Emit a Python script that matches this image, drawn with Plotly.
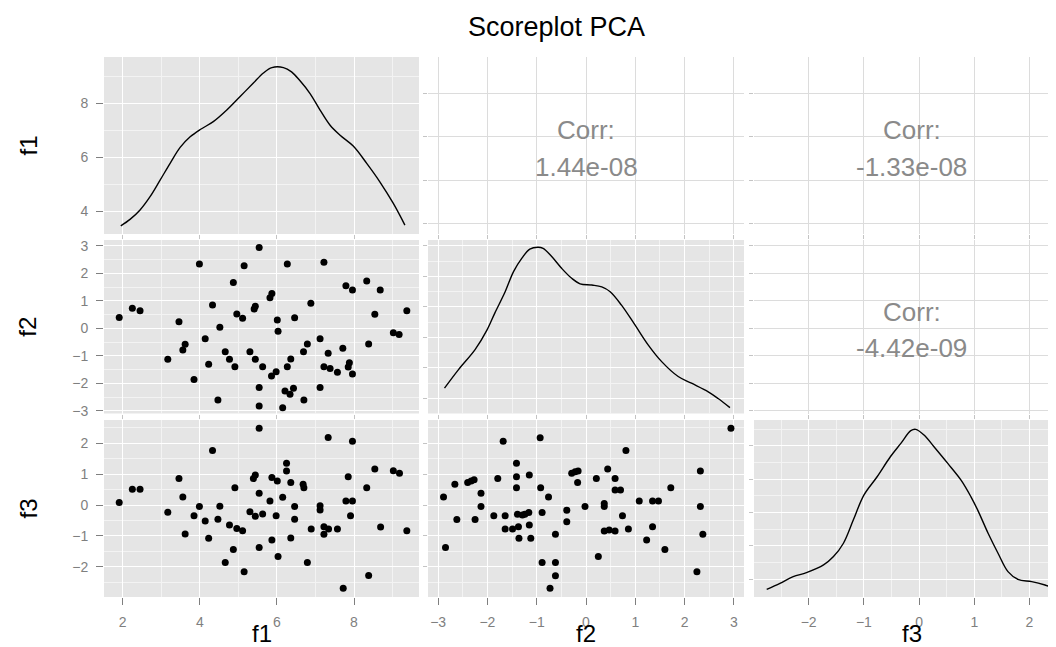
import plotly.graph_objects as go

# ---------------- data ----------------
var_names = ["f1", "f2", "f3"]
corr_labels = ["1.44e-08", "-1.33e-08", "-4.42e-09"]

# scatter panel row f2 / column f1
sc21_f1 = [1.91, 2.25, 2.45, 3.46, 3.17, 3.56, 3.62, 3.85, 3.99, 4.14, 4.23, 4.33, 4.47, 4.52,
           4.66, 4.77, 4.87, 4.91, 4.96, 5.11, 5.15, 5.30, 5.41, 5.44, 5.44, 5.54, 5.54, 5.54,
           5.63, 5.82, 5.87, 5.86, 5.98, 6.01, 6.03, 6.15, 6.21, 6.27, 6.27, 6.34, 6.36, 6.43,
           6.46, 6.69, 6.70, 6.79, 6.88, 7.12, 7.12, 7.22, 7.22, 7.33, 7.38, 7.57, 7.71, 7.79,
           7.88, 7.85, 7.96, 7.96, 8.33, 8.38, 8.54, 8.68, 9.02, 9.17, 9.37]
sc21_f2 = [0.39, 0.73, 0.64, 0.24, -1.13, -0.79, -0.58, -1.86, 2.34, -0.38, -1.31, 0.85, -2.61, 0.04,
           -0.85, -1.13, 1.66, -1.40, 0.52, 0.36, 2.27, -0.85, 0.70, 0.80, -1.13, 2.94, -2.15, -2.83,
           -1.40, 1.11, 1.26, -1.74, -1.58, 0.30, -0.11, -2.89, -2.28, 2.34, -1.40, -2.40, -1.12, -2.18,
           0.38, -0.85, -2.61, -0.57, 0.91, -0.38, -2.15, 2.40, -1.40, -0.91, -1.46, -1.60, -0.73, 1.55,
           -1.25, -1.41, 1.39, -1.66, 1.72, -0.57, 0.51, 1.39, -0.16, -0.23, 0.64]

# scatter panel row f3 / column f1
sc31_f1 = [1.91, 2.25, 2.45, 3.17, 3.46, 3.56, 3.62, 3.85, 3.99, 4.14, 4.23, 4.33, 4.47, 4.52,
           4.66, 4.77, 4.87, 4.91, 4.96, 5.11, 5.15, 5.30, 5.39, 5.44, 5.44, 5.54, 5.54, 5.54,
           5.63, 5.82, 5.87, 5.87, 5.98, 6.01, 6.03, 6.15, 6.25, 6.25, 6.36, 6.36, 6.46, 6.46,
           6.68, 6.70, 6.79, 6.89, 7.12, 7.12, 7.22, 7.22, 7.33, 7.34, 7.57, 7.72, 7.85, 7.79,
           7.91, 7.96, 7.96, 8.33, 8.38, 8.54, 8.69, 9.02, 9.18, 9.37]
sc31_f3 = [0.08, 0.51, 0.51, -0.23, 0.86, 0.26, -0.94, -0.35, -0.05, -0.52, -1.08, 1.77, -0.46, -0.04,
           -1.86, -0.65, -1.44, 0.56, -0.76, -0.83, -2.16, -0.22, 0.86, 0.97, -0.36, 2.49, 0.38, -1.38,
           -0.29, 0.13, 0.89, -1.13, -0.35, 0.78, -1.67, 0.25, 1.35, 1.10, 0.73, -1.07, -0.05, -0.46,
           0.67, 0.56, -1.86, -0.78, -0.02, -0.16, -0.70, -0.95, 2.19, -0.78, -0.78, -2.70, 0.92, 0.13,
           -0.35, 2.07, 0.13, 0.56, -2.28, 1.17, -0.71, 1.11, 1.03, -0.83]

# scatter panel row f3 / column f2
sc32_f2 = [-2.89, -2.85, -2.66, -2.62, -2.40, -2.33, -2.27, -2.25, -2.13, -2.13, -1.87, -1.79, -1.68, -1.64,
           -1.64, -1.49, -1.41, -1.41, -1.41, -1.39, -1.37, -1.36, -1.29, -1.24, -1.16, -1.15, -1.15, -1.12,
           -0.93, -0.92, -0.89, -0.89, -0.76, -0.73, -0.62, -0.62, -0.62, -0.39, -0.39, -0.29, -0.22, -0.16,
           -0.17, -0.02, 0.21, 0.25, 0.37, 0.37, 0.37, 0.44, 0.47, 0.59, 0.59, 0.59, 0.70, 0.74,
           0.81, 0.86, 1.08, 1.23, 1.35, 1.35, 1.47, 1.60, 1.72, 2.25, 2.32, 2.32, 2.37, 2.94]
sc32_f3 = [0.26, -1.38, 0.67, -0.47, 0.73, 0.78, 0.82, -0.47, 0.38, -0.05, -0.35, 0.86, 2.07, -0.35,
           -0.78, -0.78, 1.35, 0.92, 0.56, -0.30, -0.70, -1.08, -0.32, -0.30, -0.24, 0.97, -0.65, -1.08,
           2.18, 0.56, -0.24, -1.86, 0.26, -2.70, -0.95, -1.86, -2.29, -0.17, -0.54, 1.03, 1.08, 1.10,
           0.73, -0.05, 0.86, -1.67, 0.05, -0.05, -0.84, 1.17, -0.81, 0.86, 0.49, -0.84, 0.49, -0.35,
           1.77, -0.78, 0.13, -1.13, 0.13, -0.70, 0.13, -1.44, 0.56, -2.16, 1.10, -0.05, -0.95, 2.49]

# diagonal density curves (in each panel's own y units)
dens_f1_x = [1.95, 2.19, 2.45, 2.71, 2.97, 3.23, 3.49, 3.75, 4.01, 4.35, 4.70, 5.04, 5.39, 5.65,
             5.87, 6.17, 6.38, 6.60, 6.86, 7.12, 7.38, 7.64, 7.98, 8.33, 8.67, 9.02, 9.32]
dens_f1_y = [3.47, 3.71, 4.06, 4.55, 5.16, 5.78, 6.37, 6.76, 7.03, 7.32, 7.75, 8.24, 8.75, 9.12,
             9.32, 9.32, 9.16, 8.83, 8.36, 7.75, 7.19, 6.82, 6.42, 5.78, 5.10, 4.30, 3.50]

dens_f2_x = [-2.87, -2.59, -2.25, -2.01, -1.85, -1.64, -1.47, -1.30, -1.14, -0.97, -0.87, -0.70, -0.49, -0.29,
             -0.12, 0.12, 0.32, 0.49, 0.72, 0.99, 1.26, 1.54, 1.87, 2.14, 2.48, 2.68, 2.92]
dens_f2_y = [0.067, 0.097, 0.130, 0.162, 0.190, 0.225, 0.258, 0.280, 0.295, 0.298, 0.296, 0.283, 0.263, 0.247,
             0.238, 0.236, 0.233, 0.225, 0.203, 0.171, 0.138, 0.110, 0.086, 0.075, 0.061, 0.050, 0.035]

dens_f3_x = [-2.76, -2.52, -2.28, -2.04, -1.73, -1.55, -1.37, -1.19, -1.00, -0.76, -0.52, -0.33, -0.15, -0.06,
             0.09, 0.27, 0.52, 0.76, 0.94, 1.06, 1.25, 1.43, 1.61, 1.79, 2.04, 2.28, 2.46, 2.55]
dens_f3_y = [0.070, 0.088, 0.108, 0.120, 0.143, 0.168, 0.208, 0.278, 0.352, 0.407, 0.467, 0.507, 0.545, 0.549,
             0.532, 0.497, 0.447, 0.397, 0.347, 0.308, 0.238, 0.178, 0.123, 0.100, 0.093, 0.083, 0.073, 0.070]

# ---------------- layout geometry (page pixels; page body has an 8px margin) ----------------
W, H = 1056, 647
OFF = 8
plot_left, plot_right, plot_top, plot_bottom = 104, 1056, 57, 597
ML = plot_left - OFF
MT = plot_top - OFF
MR = W - (plot_right - OFF)
MB = H - (plot_bottom - OFF)
PW, PH = plot_right - plot_left, plot_bottom - plot_top


def px_x(p):
    return (p - plot_left) / PW


def px_y(p):
    return (plot_bottom - p) / PH


col_px = [(104, 419), (428, 744), (754, 1056)]
row_px = [(57, 234), (240, 413.5), (420, 597)]
col_dom = [[px_x(a), px_x(b)] for a, b in col_px]
row_dom = [[px_y(b), px_y(a)] for a, b in row_px]

col_range = [[1.515, 9.686], [-3.205, 3.205], [-2.99, 2.48]]
row_range = [[1.515, 9.686], [-3.10, 3.21], [-2.98, 2.755]]
var_dtick = [2, 1, 1]
var_minor = [1, 0.5, 0.5]
diag_y = {1: ([3.17, 9.71], 2, 1), 2: ([0.0254, 0.3098], 0.05, 0.025), 3: ([0.047, 0.577], 0.1, 0.05)}

TICKFONT = dict(family="Liberation Sans", size=14, color="#7F7F7F")
GREY_BG = "#E5E5E5"


def sfx(k):
    return "" if k == 1 else str(k)


def make_axis(dom, rng, dtick, minor, anchor, grey, labels):
    d = dict(domain=dom, range=rng, anchor=anchor, tick0=0, dtick=dtick, showgrid=True,
             zeroline=False, showline=False, ticks="outside", ticklen=7 if labels else 4,
             tickcolor="#7F7F7F" if labels else "#C4C4C4", tickwidth=1,
             showticklabels=labels, tickfont=TICKFONT, fixedrange=True, ticklabelstandoff=5)
    if grey:
        d.update(gridcolor="white", gridwidth=1.3,
                 minor=dict(tick0=0, dtick=minor, showgrid=True, gridcolor="#F3F3F3", gridwidth=0.6, ticks=""))
    else:
        d.update(gridcolor="#DCDCDC", gridwidth=1)
    return d


fig = go.Figure()
layout = {}
shapes = []
for r in range(3):
    for c in range(3):
        k = r * 3 + c + 1
        grey = c <= r
        xa = make_axis(col_dom[c], col_range[c], var_dtick[c], var_minor[c], "y" + sfx(k), grey, r == 2)
        if r == c:
            rng, dt, mn = diag_y[r + 1]
        else:
            rng, dt, mn = row_range[r], var_dtick[r], var_minor[r]
        ya = make_axis(row_dom[r], rng, dt, mn, "x" + sfx(k), grey, c == 0)
        layout["xaxis" + sfx(k)] = xa
        layout["yaxis" + sfx(k)] = ya
        if grey:
            shapes.append(dict(type="rect", xref="x" + sfx(k) + " domain", yref="y" + sfx(k) + " domain",
                               x0=0, x1=1, y0=0, y1=1, fillcolor=GREY_BG, line=dict(width=0), layer="below"))

# density traces
for k, (dx, dy) in zip([1, 5, 9], [(dens_f1_x, dens_f1_y), (dens_f2_x, dens_f2_y), (dens_f3_x, dens_f3_y)]):
    fig.add_trace(go.Scatter(x=dx, y=dy, mode="lines", line=dict(color="black", width=1.4, shape="spline"),
                             xaxis="x" + sfx(k), yaxis="y" + sfx(k), showlegend=False, hoverinfo="skip"))

# scatter traces
for k, (sx, sy) in zip([4, 7, 8], [(sc21_f1, sc21_f2), (sc31_f1, sc31_f3), (sc32_f2, sc32_f3)]):
    fig.add_trace(go.Scatter(x=sx, y=sy, mode="markers", marker=dict(color="black", size=7),
                             xaxis="x" + sfx(k), yaxis="y" + sfx(k), showlegend=False))

# empty traces so the text panels get their axes and grids
for k in [2, 3, 6]:
    fig.add_trace(go.Scatter(x=[], y=[], mode="markers", xaxis="x" + sfx(k), yaxis="y" + sfx(k),
                             showlegend=False, hoverinfo="skip"))

annotations = []
# correlation text
corr_font = dict(family="Liberation Sans", size=26, color="#8A8A8A")
for k, lab in zip([2, 3, 6], corr_labels):
    xc = 0.5 if k == 2 else 0.523
    for txt, yy in (("Corr:", 0.587), (lab, 0.378)):
        annotations.append(dict(text=txt, xref="x" + sfx(k) + " domain", yref="y" + sfx(k) + " domain",
                                x=xc, y=yy, showarrow=False, xanchor="center", yanchor="middle", font=corr_font))

# axis titles
title_font = dict(family="Liberation Sans", size=24, color="black")
bottom_centres = [261.5, 586, 912]
for name, xc in zip(var_names, bottom_centres):
    annotations.append(dict(text=name, xref="paper", yref="paper", x=px_x(xc), y=px_y(633),
                            showarrow=False, xanchor="center", yanchor="middle", font=title_font))
for name, (top, bot) in zip(var_names, row_px):
    annotations.append(dict(text=name, xref="paper", yref="paper", x=px_x(28), y=px_y((top + bot) / 2),
                            showarrow=False, xanchor="center", yanchor="middle", textangle=-90,
                            font=title_font))

annotations.append(dict(text="Scoreplot PCA", xref="paper", yref="paper", x=px_x(556), y=px_y(27),
                        showarrow=False, xanchor="center", yanchor="middle",
                        font=dict(family="Liberation Sans", size=27, color="black")))

fig.update_layout(width=W, height=H, margin=dict(l=ML, r=MR, t=MT, b=MB),
                  paper_bgcolor="white", plot_bgcolor="white", showlegend=False,
                  shapes=shapes, annotations=annotations, **layout)

fig.write_html("out.html")
